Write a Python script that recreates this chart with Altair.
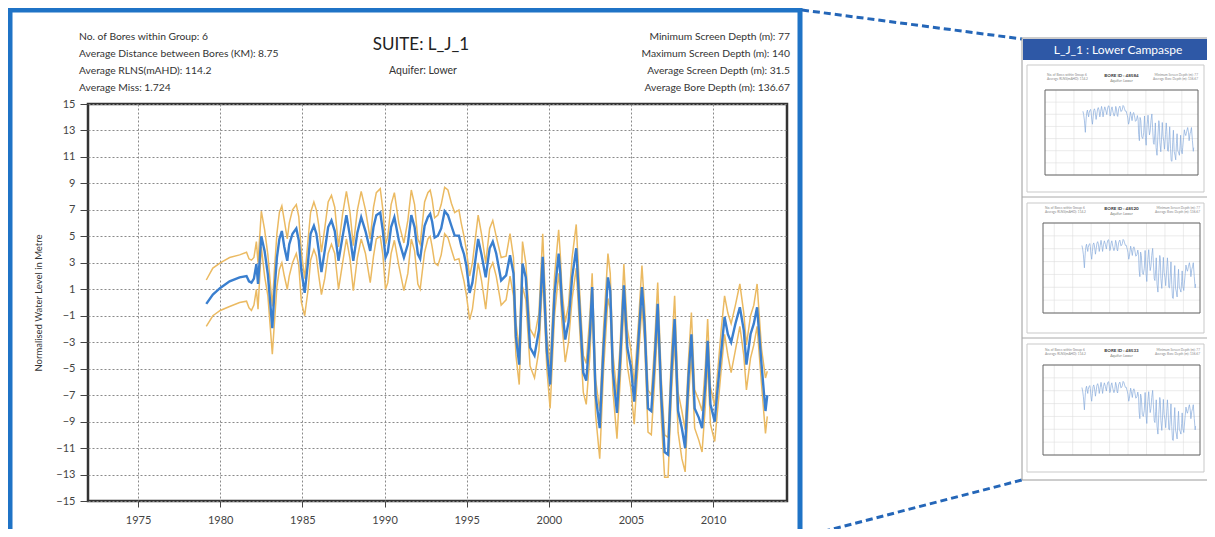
import altair as alt
import pandas as pd

# ---------------- data ----------------
years = [1979.15, 1979.55, 1980.0, 1980.57, 1981.18, 1981.6, 1981.75, 1981.9, 1982.05, 1982.2,
         1982.3, 1982.5, 1982.7, 1982.9, 1983.17, 1983.3, 1983.45, 1983.6, 1983.75, 1983.9,
         1984.08, 1984.2, 1984.4, 1984.63, 1984.78, 1984.94, 1985.14, 1985.35, 1985.5, 1985.7,
         1985.85, 1986.0, 1986.16, 1986.36, 1986.57, 1986.77, 1986.97, 1987.2, 1987.45, 1987.68,
         1987.9, 1988.1, 1988.35, 1988.58, 1988.84, 1989.13, 1989.33, 1989.5, 1989.74, 1989.9,
         1990.06, 1990.2, 1990.4, 1990.6, 1990.87, 1991.18, 1991.42, 1991.63, 1991.83, 1992.03,
         1992.17, 1992.44, 1992.64, 1992.78, 1992.9, 1993.05, 1993.25, 1993.45, 1993.66, 1993.86,
         1994.07, 1994.27, 1994.53, 1994.67, 1994.84, 1994.98, 1995.18, 1995.35, 1995.7, 1995.9,
         1996.16, 1996.4, 1996.59, 1996.8, 1997.1, 1997.4, 1997.64, 1997.85, 1998.0, 1998.2,
         1998.4, 1998.6, 1998.86, 1999.13, 1999.4, 1999.63, 1999.88, 2000.08, 2000.35, 2000.6,
         2000.7, 2000.8, 2001.0, 2001.2, 2001.42, 2001.67, 2001.87, 2002.1, 2002.28, 2002.5,
         2002.64, 2002.85, 2003.1, 2003.33, 2003.6, 2003.74, 2003.9, 2004.15, 2004.35, 2004.57,
         2004.78, 2005.0, 2005.2, 2005.47, 2005.67, 2005.83, 2006.04, 2006.24, 2006.42, 2006.63,
         2006.85, 2007.05, 2007.26, 2007.46, 2007.66, 2007.87, 2008.1, 2008.3, 2008.5, 2008.68,
         2008.88, 2009.13, 2009.33, 2009.53, 2009.67, 2009.84, 2010.1, 2010.24, 2010.5, 2010.7,
         2010.9, 2011.1, 2011.36, 2011.63, 2011.87, 2012.03, 2012.28, 2012.48, 2012.68, 2012.95,
         2013.19, 2013.3]

mean_level = [-0.1, 0.6, 1.1, 1.6, 1.9, 2.0, 1.6, 1.5, 1.8, 2.9,
              1.4, 5.0, 3.9, 2.1, -1.94, 0.86, 3.4, 4.8, 5.4, 4.2,
              3.15, 4.4, 5.2, 5.6, 4.7, 2.4, 0.73, 3.15, 5.2, 5.8,
              5.2, 3.9, 2.3, 3.9, 5.7, 6.2, 5.4, 3.15, 5.0, 6.6,
              5.0, 3.15, 5.3, 6.45, 5.4, 3.9, 5.7, 6.6, 6.8, 5.4,
              3.4, 3.8, 5.7, 6.45, 4.7, 3.4, 4.4, 6.6, 5.7, 3.65,
              3.3, 5.8, 6.45, 6.7, 6.1, 4.9, 5.05, 5.6, 6.9, 6.6,
              5.8, 5.05, 5.05, 4.3, 3.65, 2.8, 0.73, 1.5, 4.8, 3.65,
              1.9, 4.1, 4.6, 3.7, 1.67, 2.05, 3.57, 2.2, -2.6, -4.7,
              2.95, 1.9, -3.4, -4.0, -2.1, 3.45, -3.66, -6.2, 0.65, 3.7,
              2.2, -0.1, -2.8, -1.5, 1.9, 4.1, -0.36, -5.3, -5.9, -2.4,
              1.16, -7.0, -9.5, -3.4, 1.9, 0.9, -5.2, -8.35, -4.2, 1.3,
              -3.4, -4.9, -7.5, -2.6, 1.16, -1.6, -8.0, -8.2, -4.9, -0.1,
              -7.2, -11.3, -11.5, -5.4, -1.25, -8.2, -9.5, -11.0, -5.7, -2.4,
              -8.0, -8.7, -9.5, -6.2, -2.9, -7.7, -9.0, -7.0, -3.66, -1.1,
              -2.4, -3.0, -1.6, -0.36, -2.1, -4.7, -2.4, -1.6, -0.36, -4.7,
              -8.2, -7.0]

upper_level = [1.7, 2.6, 3.0, 3.4, 3.6, 3.8, 3.3, 3.2, 3.4, 4.6,
               3.0, 6.9, 5.5, 3.6, -0.3, 2.5, 5.2, 6.8, 7.3, 6.2,
               4.8, 6.0, 7.0, 7.4, 6.5, 3.8, 1.8, 4.8, 6.8, 7.6,
               7.0, 5.8, 3.8, 5.6, 7.6, 8.1, 7.2, 4.2, 6.7, 8.4,
               6.8, 4.3, 7.0, 8.4, 7.0, 4.8, 7.2, 8.3, 8.6, 7.0,
               4.4, 5.0, 7.4, 8.3, 6.0, 4.5, 6.2, 8.5, 7.4, 4.8,
               4.4, 7.6, 8.3, 8.5, 7.8, 6.4, 6.6, 7.4, 8.7, 8.5,
               7.5, 6.8, 7.0, 6.0, 5.0, 4.0, 2.0, 3.0, 6.6, 5.2,
               3.0, 5.6, 6.2, 5.0, 3.4, 3.5, 5.2, 3.4, -1.5, -3.6,
               4.6, 3.0, -2.0, -2.6, -0.8, 5.2, -2.4, -4.8, 2.0, 5.5,
               3.6, 1.0, -1.5, -0.2, 3.4, 5.9, 1.0, -4.0, -4.6, -1.0,
               2.2, -5.8, -8.2, -2.0, 3.7, 2.2, -3.8, -7.0, -3.0, 2.9,
               -2.0, -3.6, -6.2, -1.3, 2.8, -0.3, -6.6, -7.0, -3.6, 1.5,
               -5.8, -10.0, -10.2, -4.0, 0.5, -6.8, -8.2, -9.6, -4.4, -0.75,
               -6.6, -7.4, -8.2, -4.8, -1.25, -6.4, -7.8, -5.8, -2.0, 0.5,
               -0.8, -1.6, -0.2, 1.4, -0.8, -3.2, -1.0, -0.2, 1.4, -3.5,
               -5.7, -5.2]

lower_level = [-1.8, -1.0, -0.6, -0.3, 0.0, 0.1, -0.4, -0.6, -0.2, 1.0,
               -0.5, 4.2, 2.0, 0.5, -3.9, -1.5, 1.2, 2.5, 3.0, 2.0,
               1.0, 2.0, 3.0, 3.7, 2.8, 0.0, -1.0, 1.0, 3.2, 4.0,
               3.5, 2.0, 0.6, 1.8, 3.7, 4.4, 3.7, 1.0, 3.0, 4.8,
               3.3, 0.9, 3.4, 4.8, 3.7, 1.5, 3.5, 4.8, 5.0, 3.6,
               1.0, 1.5, 3.7, 4.7, 2.8, 0.9, 2.2, 4.8, 3.9, 1.4,
               1.0, 3.8, 4.8, 5.0, 4.2, 3.0, 2.8, 3.6, 5.2, 4.9,
               4.0, 3.2, 3.3, 2.5, 1.6, 0.6, -1.3, -0.5, 3.0, 1.7,
               -0.5, 2.5, 3.0, 2.0, -0.2, 0.2, 2.0, 0.5, -4.0, -6.2,
               1.2, 0.2, -4.8, -5.7, -3.6, 2.0, -5.0, -8.0, -1.0, 2.2,
               0.8, -1.5, -4.5, -3.0, 0.3, 2.6, -1.8, -6.8, -7.7, -4.0,
               -0.2, -8.5, -11.8, -5.2, 0.3, -0.5, -6.6, -10.3, -5.8, -0.2,
               -4.8, -6.5, -9.2, -4.0, -0.3, -3.0, -9.8, -10.0, -6.4, -1.6,
               -8.8, -13.2, -13.2, -7.0, -2.8, -9.8, -11.8, -12.8, -7.3, -4.0,
               -9.5, -10.4, -11.3, -7.8, -4.4, -9.2, -10.5, -8.6, -5.0, -2.4,
               -4.0, -5.3, -3.6, -1.8, -4.0, -6.6, -4.2, -3.2, -1.8, -6.2,
               -9.9, -8.6]

x_ticks = [1975, 1980, 1985, 1990, 1995, 2000, 2005, 2010]
y_ticks = list(range(-15, 16, 2))
thumb_y_ticks = [-16, -12, -8, -4, 0, 4, 8, 12]

title_text = "SUITE: L_J_1"
subtitle_text = "Aquifer: Lower"
y_title = "Normalised Water Level in Metre"
left_info = ["No. of Bores within Group: 6",
             "Average Distance between Bores (KM): 8.75",
             "Average RLNS(mAHD): 114.2",
             "Average Miss: 1.724"]
right_info = ["Minimum Screen Depth (m): 77",
              "Maximum Screen Depth (m): 140",
              "Average Screen Depth (m): 31.5",
              "Average Bore Depth (m): 136.67"]
panel_title = "L_J_1 : Lower Campaspe"
thumb_titles = ["BORE ID : 48584", "BORE ID : 48520", "BORE ID : 48533"]

# ---------------- layout ----------------
FONT = "Lato"
BLUE = "#3a7fcf"
ORANGE = "#ebba62"
OX, OY, W, H = 88, 104, 699, 397          # plot area on the page
PAD_L, PAD_T = OX - 8, OY - 8
PAD_R = 1199 - PAD_L - W
PAD_B = 521 - PAD_T - H


def px(X):
    return X - OX


def py(Y):
    return Y - OY


one = pd.DataFrame({"k": [0]})


def box(x0, y0, x1, y1, **kw):
    return alt.Chart(one).mark_rect(**kw).encode(
        x=alt.value(px(x0)), x2=alt.value(px(x1)),
        y=alt.value(py(y0)), y2=alt.value(py(y1)))


def seg(x0, y0, x1, y1, **kw):
    return alt.Chart(one).mark_rule(**kw).encode(
        x=alt.value(px(x0)), y=alt.value(py(y0)),
        x2=alt.value(px(x1)), y2=alt.value(py(y1)))


def label(s, X, Y, **kw):
    kw.setdefault("font", FONT)
    kw.setdefault("baseline", "middle")
    return alt.Chart(one).mark_text(**kw).encode(
        x=alt.value(px(X)), y=alt.value(py(Y)), text=alt.value(s))


df = pd.DataFrame({"year": years, "mean": mean_level,
                   "upper": upper_level, "lower": lower_level})

# ---------------- main chart ----------------
xs = alt.Scale(domain=[1971.95, 2014.5], nice=False, zero=False)
ys = alt.Scale(domain=[-15, 15], nice=False, zero=False)
ax_x = alt.Axis(values=x_ticks, format="d", title=None, grid=True,
                gridColor="#8a8a8a", gridDash=[2, 2], gridWidth=1,
                domain=False, tickSize=6, tickColor="#444",
                labelFont=FONT, labelFontSize=11, labelColor="#444",
                labelPadding=7, labelFlush=False)
ax_y = alt.Axis(values=y_ticks, title=y_title, grid=True,
                gridColor="#8a8a8a", gridDash=[2, 2], gridWidth=1,
                domain=False, tickSize=8, tickColor="#444",
                labelFont=FONT, labelFontSize=11, labelColor="#444",
                labelPadding=5, labelFlush=False,
                titleFont=FONT, titleFontSize=9.5, titleFontWeight="normal",
                titleColor="#333", titleAngle=270, titleX=-50, titleY=H / 2,
                titleAlign="center", titleBaseline="middle")

base = alt.Chart(df).encode(x=alt.X("year:Q", scale=xs, axis=ax_x))
up_line = base.mark_line(color=ORANGE, strokeWidth=1.5).encode(
    y=alt.Y("upper:Q", scale=ys, axis=ax_y))
lo_line = base.mark_line(color=ORANGE, strokeWidth=1.5).encode(
    y=alt.Y("lower:Q", scale=ys, axis=ax_y))
mn_line = base.mark_line(color=BLUE, strokeWidth=2.4).encode(
    y=alt.Y("mean:Q", scale=ys, axis=ax_y))
main = alt.layer(up_line, lo_line, mn_line)

# ---------------- thumbnails ----------------
df_thumb = df[df["year"] >= 1982.4]
gx_df = pd.DataFrame({"gx": x_ticks})
gy_df = pd.DataFrame({"gy": thumb_y_ticks})


def thumbnail(frame, plot, ttl):
    fx0, fy0, fx1, fy1 = frame
    x0, y0, x1, y1 = plot
    tx = alt.Scale(domain=[1971.95, 2014.5], range=[px(x0), px(x1)], nice=False, zero=False)
    ty = alt.Scale(domain=[-16, 12], range=[py(y1), py(y0)], nice=False, zero=False)
    gv = alt.Chart(gx_df).mark_rule(color="#dedede", strokeWidth=0.6).encode(
        x=alt.X("gx:Q", scale=tx, axis=None), y=alt.value(py(y0)), y2=alt.value(py(y1)))
    gh = alt.Chart(gy_df).mark_rule(color="#dedede", strokeWidth=0.6).encode(
        y=alt.Y("gy:Q", scale=ty, axis=None), x=alt.value(px(x0)), x2=alt.value(px(x1)))
    ln = alt.Chart(df_thumb).mark_line(color="#86aadb", strokeWidth=0.7).encode(
        x=alt.X("year:Q", scale=tx, axis=None), y=alt.Y("mean:Q", scale=ty, axis=None))
    cx = (x0 + x1) / 2
    parts = [
        box(fx0, fy0, fx1, fy1, color="white", stroke="#c9c9c9", strokeWidth=1),
        gv, gh, ln,
        box(x0, y0, x1, y1, fillOpacity=0, stroke="#666", strokeWidth=1),
        label(ttl, cx, y0 - 14, fontSize=4.5, fontWeight="bold", color="#333", align="center"),
        label(subtitle_text, cx, y0 - 9, fontSize=3.5, color="#777", align="center"),
        label(left_info[0], x0 + 2, y0 - 15, fontSize=3.2, color="#888", align="left"),
        label(left_info[2], x0 + 2, y0 - 11, fontSize=3.2, color="#888", align="left"),
        label(right_info[0], x1, y0 - 15, fontSize=3.2, color="#888", align="right"),
        label(right_info[3], x1, y0 - 11, fontSize=3.2, color="#888", align="right"),
    ]
    return alt.layer(*parts)


thumbs = [
    thumbnail((1027, 65, 1204, 192), (1045, 90, 1198, 175), thumb_titles[0]),
    thumbnail((1027, 203, 1204, 333), (1043, 223, 1200, 313), thumb_titles[1]),
    thumbnail((1027, 344, 1204, 472), (1043, 365, 1200, 455), thumb_titles[2]),
]

# ---------------- decoration & texts ----------------
decor = [
    box(10, 10, 800, 560, fillOpacity=0, stroke="#1f73c6", strokeWidth=5),
    seg(802, 10, 1022, 39, color="#2466b8", strokeWidth=3, strokeDash=[7, 4]),
    seg(802, 537, 1022, 480, color="#2466b8", strokeWidth=3, strokeDash=[7, 4]),
    box(1022, 38, 1213, 480, color="white", stroke="#9a9a9a", strokeWidth=1),
    box(1023, 39, 1212, 60, color="#2e58a6"),
    label(panel_title, 1118, 49.5, fontSize=12, color="white", align="center"),
    seg(1022, 197, 1213, 197, color="#aaaaaa", strokeWidth=1),
    seg(1022, 338, 1213, 338, color="#aaaaaa", strokeWidth=1),
    label(title_text, 421, 45, fontSize=17, color="#222", align="center"),
    label(subtitle_text, 423, 71, fontSize=10.5, color="#333", align="center"),
]
for i, s in enumerate(left_info):
    decor.append(label(s, 79, 37 + 17 * i, fontSize=10.3, color="#333", align="left"))
for i, s in enumerate(right_info):
    decor.append(label(s, 790, 37 + 17 * i, fontSize=10.3, color="#333", align="right"))

chart = alt.layer(*decor, main, *thumbs).resolve_scale(
    x="independent", y="independent"
).properties(
    width=W, height=H,
    padding={"left": PAD_L, "top": PAD_T, "right": PAD_R, "bottom": PAD_B},
    autosize=alt.AutoSizeParams(type="none"),
    background="white",
).configure_view(stroke="#333", strokeWidth=2.5)

chart.save("out.html", embed_options={"renderer": "svg", "actions": False})
